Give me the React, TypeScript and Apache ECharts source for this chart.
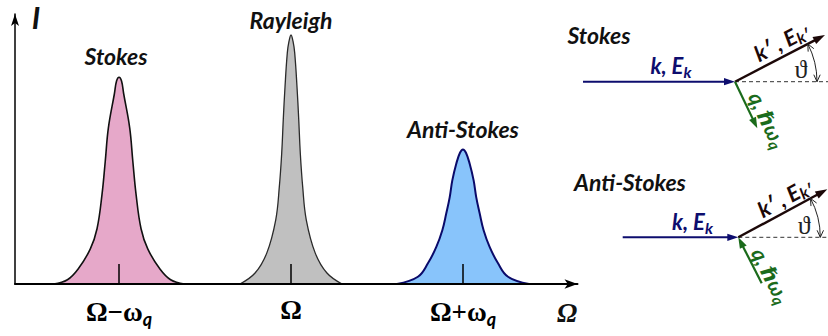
import React, { useEffect, useRef } from 'react';
import * as echarts from 'echarts';

// ---------- data ----------
// frequency axis in units of ω_q, measured from the Rayleigh line Ω
const peakNames = ['Stokes', 'Rayleigh', 'Anti-Stokes'];
const peakCenters = [-1, 0, 1];
const tickMain = ['Ω−ω', 'Ω', 'Ω+ω'];
const tickSub = ['q', '', 'q'];

// half profiles: offset from the line centre, intensity (Rayleigh peak = 1)
const stokesOffsets = [0, 0.0145, 0.027, 0.062, 0.08, 0.099, 0.128, 0.167, 0.237, 0.3, 0.38];
const stokesLevels = [0.83, 0.815, 0.764, 0.627, 0.494, 0.36, 0.222, 0.141, 0.061, 0.017, 0];
const rayleighOffsets = [0, 0.0116, 0.0215, 0.035, 0.045, 0.054, 0.068, 0.089, 0.141, 0.209, 0.297];
const rayleighLevels = [1, 0.975, 0.928, 0.79, 0.66, 0.526, 0.39, 0.257, 0.124, 0.044, 0];
const antiOffsets = [0, 0.0174, 0.039, 0.062, 0.077, 0.097, 0.12, 0.155, 0.203, 0.262, 0.384];
const antiLevels = [0.54, 0.527, 0.483, 0.416, 0.349, 0.284, 0.216, 0.149, 0.084, 0.029, 0];

const axisRange = [-1.605, 1.666];
const intensityMax = 1.0843;

// ---------- styles ----------
const SANS = 'Lato, "Open Sans", "DejaVu Sans", sans-serif';
const SERIF = '"Liberation Serif", "DejaVu Serif", serif';
const NAVY = '#0d0d6e';
const DARK = '#1c0808';
const GREEN = '#1b6b1b';

const labelFont = {
  fontFamily: SANS,
  fontStyle: 'italic' as const,
  fontWeight: 'bold' as const,
  fontSize: 23,
  color: '#111',
};

function buildSeries(
  name: string,
  center: number,
  offsets: number[],
  levels: number[],
  fill: string,
  stroke: string,
  lw: number,
  labelDist: number,
  labelDx: number
) {
  const left = offsets
    .slice(1)
    .map((o, i) => [center - o, levels[i + 1]])
    .reverse();
  const right = offsets.slice(1).map((o, i) => [center + o, levels[i + 1]]);
  const peak = {
    value: [center, levels[0]],
    label: {
      show: true,
      formatter: name,
      position: 'top',
      distance: labelDist,
      offset: [labelDx, 0],
      ...labelFont,
    },
  };
  return {
    type: 'line',
    name,
    data: [...left, peak, ...right],
    smooth: 0.4,
    showSymbol: true,
    showAllSymbol: true,
    symbol: 'circle',
    symbolSize: 0,
    lineStyle: { color: stroke, width: lw },
    itemStyle: { color: stroke },
    areaStyle: { color: fill, opacity: 1 },
    label: { show: false },
    silent: true,
    z: 2,
  };
}

function txt(
  x: number,
  y: number,
  text: string,
  size: number,
  family: string,
  color: string,
  italic: boolean,
  bold: boolean,
  extra: any = {}
) {
  return {
    type: 'text',
    x,
    y,
    ...extra,
    style: {
      text,
      fontSize: size,
      fontFamily: family,
      fontStyle: italic ? 'italic' : 'normal',
      fontWeight: bold ? 'bold' : 'normal',
      fill: color,
      align: 'center',
      verticalAlign: 'middle',
    },
  };
}

function richTxt(
  x: number,
  y: number,
  main: string,
  sub: string,
  size: number,
  subSize: number,
  drop: number,
  color: string,
  rotation = 0
) {
  const base = { fontFamily: SANS, fontStyle: 'italic', fontWeight: 'bold', fill: color };
  return {
    type: 'text',
    x,
    y,
    rotation,
    style: {
      text: `{m|${main}}{s|${sub}}`,
      fill: color,
      align: 'center',
      verticalAlign: 'middle',
      rich: {
        m: { ...base, fontSize: size },
        s: { ...base, fontSize: subSize, padding: [drop, 0, 0, 0] },
      },
    },
  };
}

// ---------- vector diagrams (graphic) ----------
function arrow(
  x1: number,
  y1: number,
  x2: number,
  y2: number,
  color: string,
  width: number,
  len: number,
  half: number
) {
  const dx = x2 - x1;
  const dy = y2 - y1;
  const L = Math.hypot(dx, dy);
  const ux = dx / L;
  const uy = dy / L;
  const bx = x2 - ux * len;
  const by = y2 - uy * len;
  return [
    {
      type: 'line',
      shape: { x1, y1, x2: x2 - ux * len * 0.7, y2: y2 - uy * len * 0.7 },
      style: { stroke: color, lineWidth: width },
    },
    {
      type: 'polygon',
      shape: {
        points: [
          [x2, y2],
          [bx - uy * half, by + ux * half],
          [bx + uy * half, by - ux * half],
        ],
      },
      style: { fill: color },
    },
  ];
}

function openHead(tx: number, ty: number, dx: number, dy: number) {
  const len = 7;
  const half = 3.2;
  const bx = tx - dx * len;
  const by = ty - dy * len;
  return {
    type: 'polyline',
    shape: {
      points: [
        [bx - dy * half, by + dx * half],
        [tx, ty],
        [bx + dy * half, by - dx * half],
      ],
    },
    style: { stroke: '#222', lineWidth: 1, fill: null },
  };
}

function diagram(
  title: string,
  titleX: number,
  titleY: number,
  vx: number,
  vy: number,
  blueStart: number,
  kTip: [number, number],
  green: [number, number, number, number]
) {
  const els: any[] = [];
  els.push(txt(titleX, titleY, title, 23, SANS, '#111', true, true));
  // dashed continuation
  els.push({
    type: 'line',
    shape: { x1: vx, y1: vy, x2: 828, y2: vy },
    style: { stroke: '#333', lineWidth: 1, lineDash: [4, 3] },
  });
  // incoming k
  els.push(...arrow(blueStart, vy, vx, vy, NAVY, 2, 11, 3.6));
  els.push(richTxt((blueStart + vx) / 2 + 12, vy - 16, 'k, E', 'k', 22, 16, 12, NAVY));
  // scattered k'
  els.push(...arrow(vx, vy, kTip[0], kTip[1], DARK, 2.4, 12, 4));
  const ang = Math.atan2(vy - kTip[1], kTip[0] - vx);
  els.push(richTxt(vx + 46, vy - 40, 'k′ , E', 'k′', 22, 16, 10, DARK, ang));
  // phonon q
  els.push(...arrow(green[0], green[1], green[2], green[3], GREEN, 2.2, 11, 3.8));
  const gAng = Math.atan2(Math.abs(green[3] - green[1]), Math.abs(green[2] - green[0]));
  els.push(richTxt(vx + 33, vy + 38, 'q, ℏω', 'q', 21, 15, 10, GREEN, -gAng));
  // angle arc with arrowheads
  const r = 82;
  els.push({
    type: 'arc',
    shape: { cx: vx, cy: vy, r, startAngle: -ang, endAngle: 0, clockwise: true },
    style: { stroke: '#222', lineWidth: 1, fill: null },
  });
  els.push(openHead(vx + r, vy, 0, 1));
  els.push(openHead(vx + r * Math.cos(ang), vy - r * Math.sin(ang), -Math.sin(ang), -Math.cos(ang)));
  els.push(txt(vx + 66, vy - 12, 'ϑ', 26, SERIF, '#222', false, false));
  return els;
}

function buildOption() {
  const series = [
    buildSeries(peakNames[0], peakCenters[0], stokesOffsets, stokesLevels, '#e6a8c9', '#111', 1.6, 10, -3),
    buildSeries(peakNames[1], peakCenters[1], rayleighOffsets, rayleighLevels, '#c0c0c0', '#2a2a2a', 1.3, 3, 0),
    buildSeries(peakNames[2], peakCenters[2], antiOffsets, antiLevels, '#88c4fb', '#0a0a6a', 2, 9, 0),
  ];

  const graphic: any[] = [
    txt(36, 17, 'I', 30, SANS, '#111', true, true),
    txt(567, 313, 'Ω', 27, SERIF, '#111', true, true),
    ...diagram('Stokes', 599, 35, 735, 81.7, 583, [825, 35], [735, 81.7, 757.3, 128.3]),
    ...diagram('Anti-Stokes', 630, 182, 738.3, 237.3, 622.7, [827.3, 189.3], [761.7, 283.3, 738.3, 237.3]),
  ];

  return {
    animation: false,
    grid: { left: 15, right: 250.5, top: 14, bottom: 52, containLabel: false },
    xAxis: {
      type: 'value',
      min: axisRange[0],
      max: axisRange[1],
      z: 10,
      axisLine: {
        show: true,
        onZero: false,
        symbol: ['none', 'arrow'],
        symbolSize: [7, 13],
        lineStyle: { color: '#000', width: 2 },
      },
      axisTick: {
        show: true,
        customValues: peakCenters,
        inside: true,
        length: 20,
        lineStyle: { color: '#000', width: 1.5 },
      },
      axisLabel: {
        show: true,
        customValues: peakCenters,
        margin: 12,
        formatter: (v: number) => {
          const i = peakCenters.indexOf(v);
          if (i < 0) return '';
          return tickSub[i] ? `{o|${tickMain[i]}}{q|${tickSub[i]}}` : `{o|${tickMain[i]}}`;
        },
        rich: {
          o: { fontFamily: SERIF, fontWeight: 'bold', fontSize: 27, color: '#000' },
          q: {
            fontFamily: SANS,
            fontStyle: 'italic',
            fontWeight: 'bold',
            fontSize: 18,
            color: '#000',
            padding: [14, 0, 0, 0],
          },
        },
      },
      splitLine: { show: false },
    },
    yAxis: {
      type: 'value',
      min: 0,
      max: intensityMax,
      axisLine: {
        show: true,
        onZero: false,
        symbol: ['none', 'arrow'],
        symbolSize: [6, 12],
        lineStyle: { color: '#000', width: 1.5 },
      },
      axisTick: { show: false },
      axisLabel: { show: false },
      splitLine: { show: false },
    },
    series,
    graphic,
  };
}

export default function App() {
  const ref = useRef<HTMLDivElement>(null);
  useEffect(() => {
    if (!ref.current) return;
    const chart = echarts.init(ref.current, null, { renderer: 'svg' });
    chart.setOption(buildOption() as any);
    return () => chart.dispose();
  }, []);
  return (
    <div
      ref={ref}
      style={{ position: 'absolute', left: 0, top: 0, width: 828, height: 336, background: '#fff' }}
    />
  );
}
